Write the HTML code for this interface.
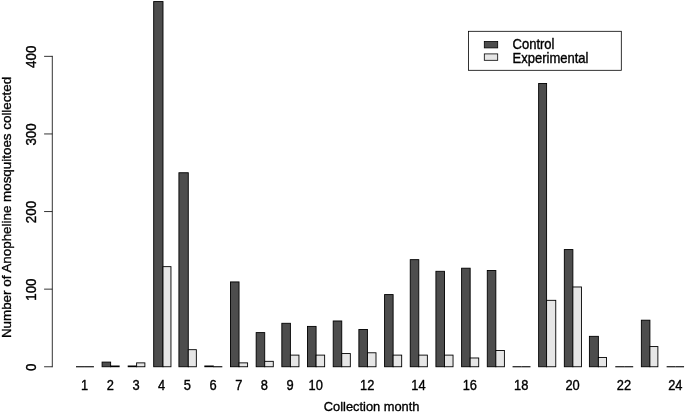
<!DOCTYPE html>
<html lang="en"><head><meta charset="utf-8"><title>Anopheline mosquitoes collected</title>
<style>html,body{margin:0;padding:0;background:#fff}body{width:685px;height:413px;overflow:hidden}</style></head>
<body>
<svg width="685" height="413" viewBox="0 0 685 413" style="display:block" font-family="'Liberation Sans', sans-serif" font-size="13.2px" fill="#000">
<style>text{stroke:#000;stroke-width:0.35px;stroke-linejoin:round}</style>
<defs><filter id="soft" x="0" y="0" width="685" height="413" filterUnits="userSpaceOnUse"><feGaussianBlur stdDeviation="0.6 0.4"/></filter></defs>
<rect width="685" height="413" fill="#fff"/>
<g filter="url(#soft)">
<rect width="685" height="413" fill="#fff"/>
<g stroke="#000" stroke-width="0.9">
<path d="M76.00 366.75 H84.96" stroke-width="1.1"/>
<path d="M84.96 366.75 H93.92" stroke-width="1.1"/>
<rect x="102.08" y="362.09" width="8.56" height="4.66" fill="#4d4d4d"/>
<rect x="110.64" y="365.97" width="8.56" height="0.78" fill="#e6e6e6"/>
<rect x="128.16" y="365.97" width="8.46" height="0.78" fill="#4d4d4d"/>
<rect x="136.62" y="362.87" width="8.26" height="3.88" fill="#e6e6e6"/>
<rect x="153.69" y="1.56" width="9.31" height="365.19" fill="#4d4d4d"/>
<rect x="163.00" y="266.65" width="7.96" height="100.10" fill="#e6e6e6"/>
<rect x="178.92" y="172.75" width="9.36" height="194.00" fill="#4d4d4d"/>
<rect x="188.28" y="349.68" width="8.06" height="17.07" fill="#e6e6e6"/>
<rect x="204.80" y="365.97" width="8.56" height="0.78" fill="#4d4d4d"/>
<path d="M213.36 366.75 H222.32" stroke-width="1.1"/>
<rect x="230.48" y="281.93" width="8.56" height="84.82" fill="#4d4d4d"/>
<rect x="239.04" y="362.87" width="8.56" height="3.88" fill="#e6e6e6"/>
<rect x="256.16" y="332.61" width="8.56" height="34.14" fill="#4d4d4d"/>
<rect x="264.72" y="361.32" width="8.56" height="5.43" fill="#e6e6e6"/>
<rect x="281.84" y="323.29" width="8.56" height="43.46" fill="#4d4d4d"/>
<rect x="290.40" y="355.11" width="8.56" height="11.64" fill="#e6e6e6"/>
<rect x="307.52" y="326.40" width="8.56" height="40.35" fill="#4d4d4d"/>
<rect x="316.08" y="355.11" width="8.56" height="11.64" fill="#e6e6e6"/>
<rect x="333.20" y="320.97" width="8.56" height="45.78" fill="#4d4d4d"/>
<rect x="341.76" y="353.56" width="8.56" height="13.19" fill="#e6e6e6"/>
<rect x="358.88" y="329.50" width="8.56" height="37.25" fill="#4d4d4d"/>
<rect x="367.44" y="352.78" width="8.56" height="13.97" fill="#e6e6e6"/>
<rect x="384.56" y="294.58" width="8.56" height="72.17" fill="#4d4d4d"/>
<rect x="393.12" y="355.11" width="8.56" height="11.64" fill="#e6e6e6"/>
<rect x="410.24" y="259.66" width="8.56" height="107.09" fill="#4d4d4d"/>
<rect x="418.80" y="355.11" width="8.56" height="11.64" fill="#e6e6e6"/>
<rect x="435.92" y="271.30" width="8.56" height="95.45" fill="#4d4d4d"/>
<rect x="444.48" y="355.11" width="8.56" height="11.64" fill="#e6e6e6"/>
<rect x="461.60" y="268.20" width="8.56" height="98.55" fill="#4d4d4d"/>
<rect x="470.16" y="357.98" width="8.56" height="8.77" fill="#e6e6e6"/>
<rect x="487.28" y="270.53" width="8.56" height="96.22" fill="#4d4d4d"/>
<rect x="495.84" y="350.45" width="8.56" height="16.30" fill="#e6e6e6"/>
<path d="M512.56 366.75 H521.52" stroke-width="1.1"/>
<path d="M521.52 366.75 H530.48" stroke-width="1.1"/>
<rect x="538.64" y="83.51" width="7.96" height="283.24" fill="#4d4d4d"/>
<rect x="546.60" y="300.32" width="9.16" height="66.43" fill="#e6e6e6"/>
<rect x="564.32" y="249.57" width="8.56" height="117.18" fill="#4d4d4d"/>
<rect x="572.88" y="286.98" width="8.56" height="79.77" fill="#e6e6e6"/>
<rect x="589.40" y="336.33" width="8.96" height="30.42" fill="#4d4d4d"/>
<rect x="598.36" y="357.44" width="8.16" height="9.31" fill="#e6e6e6"/>
<path d="M615.28 366.75 H624.24" stroke-width="1.1"/>
<path d="M624.24 366.75 H633.20" stroke-width="1.1"/>
<rect x="641.36" y="320.19" width="8.56" height="46.56" fill="#4d4d4d"/>
<rect x="649.92" y="346.57" width="7.96" height="20.18" fill="#e6e6e6"/>
<path d="M666.64 366.75 H675.60" stroke-width="1.1"/>
<path d="M675.60 366.75 H684.06" stroke-width="1.1"/>
</g>
<g stroke="#000" stroke-width="0.8" fill="none">
<path d="M52.3 367.25 V55.85"/>
<path d="M52.3 366.75 H44.10"/>
<path d="M52.3 289.15 H44.10"/>
<path d="M52.3 211.55 H44.10"/>
<path d="M52.3 133.95 H44.10"/>
<path d="M52.3 56.35 H44.10"/>
</g>
<text transform="translate(36.30 367.25) rotate(-90) scale(1 1.09)" font-size="13.4px" text-anchor="middle">0</text>
<text transform="translate(36.30 289.65) rotate(-90) scale(1 1.09)" font-size="13.4px" text-anchor="middle">100</text>
<text transform="translate(36.30 212.05) rotate(-90) scale(1 1.09)" font-size="13.4px" text-anchor="middle">200</text>
<text transform="translate(36.30 134.45) rotate(-90) scale(1 1.09)" font-size="13.4px" text-anchor="middle">300</text>
<text transform="translate(36.30 56.85) rotate(-90) scale(1 1.09)" font-size="13.4px" text-anchor="middle">400</text>
<text transform="translate(84.66 389.80) scale(0.975 1.05)" text-anchor="middle">1</text>
<text transform="translate(110.34 389.80) scale(0.975 1.05)" text-anchor="middle">2</text>
<text transform="translate(136.02 389.80) scale(0.975 1.05)" text-anchor="middle">3</text>
<text transform="translate(161.70 389.80) scale(0.975 1.05)" text-anchor="middle">4</text>
<text transform="translate(187.38 389.80) scale(0.975 1.05)" text-anchor="middle">5</text>
<text transform="translate(213.06 389.80) scale(0.975 1.05)" text-anchor="middle">6</text>
<text transform="translate(238.74 389.80) scale(0.975 1.05)" text-anchor="middle">7</text>
<text transform="translate(264.42 389.80) scale(0.975 1.05)" text-anchor="middle">8</text>
<text transform="translate(290.10 389.80) scale(0.975 1.05)" text-anchor="middle">9</text>
<text transform="translate(315.78 389.80) scale(0.975 1.05)" text-anchor="middle">10</text>
<text transform="translate(367.14 389.80) scale(0.975 1.05)" text-anchor="middle">12</text>
<text transform="translate(418.50 389.80) scale(0.975 1.05)" text-anchor="middle">14</text>
<text transform="translate(469.86 389.80) scale(0.975 1.05)" text-anchor="middle">16</text>
<text transform="translate(521.22 389.80) scale(0.975 1.05)" text-anchor="middle">18</text>
<text transform="translate(572.58 389.80) scale(0.975 1.05)" text-anchor="middle">20</text>
<text transform="translate(623.94 389.80) scale(0.975 1.05)" text-anchor="middle">22</text>
<text transform="translate(675.30 389.80) scale(0.975 1.05)" text-anchor="middle">24</text>
<text transform="translate(371.60 411.40) scale(0.975 1)" text-anchor="middle">Collection month</text>
<text transform="translate(11.40 207.50) rotate(-90) scale(1 1.01)" font-size="13.4px" text-anchor="middle">Number of Anopheline mosquitoes collected</text>
<rect x="468.5" y="31.3" width="152.8" height="39" fill="#fff" stroke="#000" stroke-width="0.8"/>
<rect x="484.3" y="41.5" width="13.4" height="6.4" fill="#4d4d4d" stroke="#000" stroke-width="0.8"/>
<rect x="484.3" y="53.9" width="13.4" height="6.4" fill="#e6e6e6" stroke="#000" stroke-width="0.8"/>
<text transform="translate(512.50 49.40) scale(0.987 1.04)" text-anchor="start">Control</text>
<text transform="translate(512.50 62.60) scale(0.987 1.04)" text-anchor="start">Experimental</text>
</g>
</svg>
</body></html>
